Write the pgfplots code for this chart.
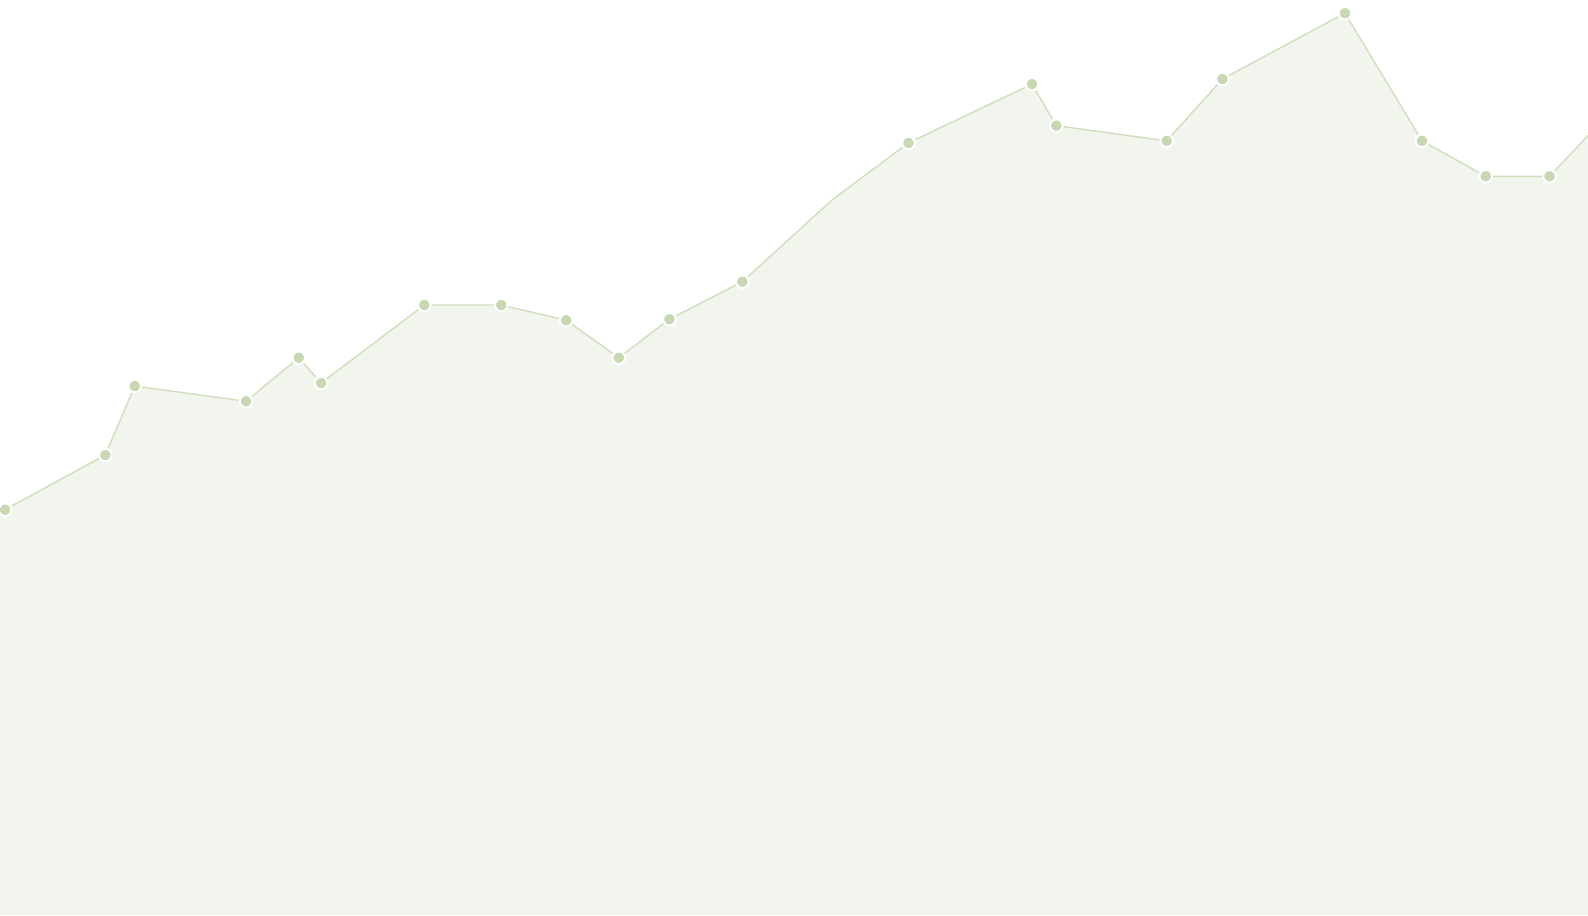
\documentclass[border=0pt]{standalone}
\usepackage{pgfplots}
\pgfplotsset{compat=1.18}
\definecolor{areafill}{RGB}{242,245,237}
\definecolor{linecol}{RGB}{208,222,190}
\definecolor{markcol}{RGB}{200,216,178}
\begin{document}
\begin{tikzpicture}
\begin{axis}[
  name=ax,
  width=15.88cm, height=9.15cm, scale only axis,
  xmin=0, xmax=1568, ymin=0, ymax=903,
  hide axis, enlargelimits=false,
  clip marker paths=true,
]
\addplot[fill=areafill, draw=none] coordinates {
(5,400) (104,454) (133,522) (243,507) (295,550) (317,525) (419,602) (495,602)
(559,587) (611,550) (661,588) (733,625) (822,706) (897,762) (1019,820) (1043,779)
(1152,764) (1207,825) (1328,890) (1404,764) (1467,729) (1530,729) (1600,803)
} -- (axis cs:1600,0) -- (axis cs:-20,0) -- (axis cs:-20,400) -- cycle;
\addplot[color=linecol, line width=0.4pt, mark=none] coordinates {
(5,400) (104,454) (133,522) (243,507) (295,550) (317,525) (419,602) (495,602)
(559,587) (611,550) (661,588) (733,625) (822,706) (897,762) (1019,820) (1043,779)
(1152,764) (1207,825) (1328,890) (1404,764) (1467,729) (1530,729) (1600,803)
};
\addplot[only marks, mark=*, mark size=1.8pt,
  mark options={fill=markcol, draw=white, line width=0.6pt}] coordinates {
(5,400) (104,454) (133,522) (243,507) (295,550) (317,525) (419,602) (495,602)
(559,587) (611,550) (661,588) (733,625) (897,762) (1019,820) (1043,779)
(1152,764) (1207,825) (1328,890) (1404,764) (1467,729) (1530,729)
};
\end{axis}
\pgfresetboundingbox
\useasboundingbox (ax.south west) rectangle (ax.north east);
\end{tikzpicture}
\end{document}
